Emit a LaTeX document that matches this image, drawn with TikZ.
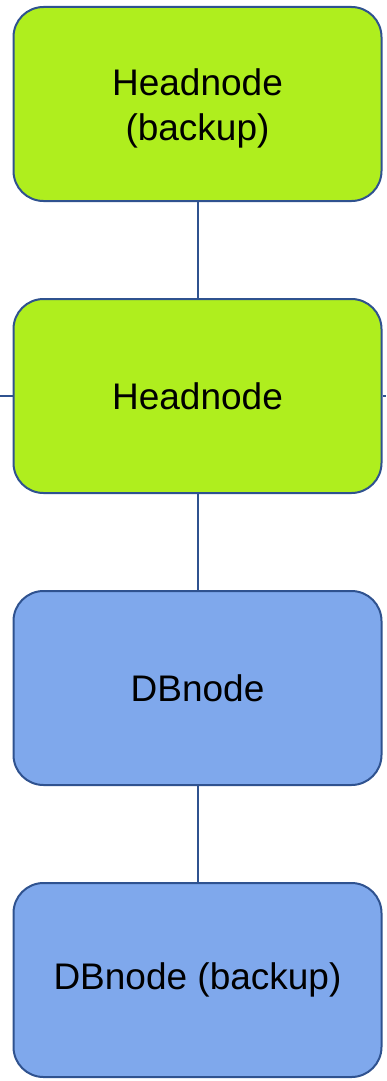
\documentclass[tikz,border=0pt]{standalone}
\usepackage{fontspec}
\setmainfont{Liberation Sans}
\definecolor{hgreen}{RGB}{175,238,30}
\definecolor{dbblue}{RGB}{127,168,236}
\definecolor{edge}{RGB}{47,82,143}
\begin{document}
\begin{tikzpicture}[x=1pt,y=-1pt,
  box/.style={draw=edge, line width=2pt, rounded corners=30pt, minimum width=368pt, minimum height=194pt, align=center, font=\fontsize{37}{44}\selectfont, inner sep=0pt},
  conn/.style={draw=edge, line width=2pt}]
\useasboundingbox (0,0) rectangle (386,1081);
\node[box, fill=hgreen, label={[align=center, font=\fontsize{37}{45}\selectfont, yshift=-4pt]center:Headnode\\(backup)}] (hb) at (197.5,104) {};
\node[box, fill=hgreen] (h) at (197.5,396) {Headnode};
\node[box, fill=dbblue] (db) at (197.5,688) {DBnode};
\node[box, fill=dbblue] (dbb) at (197.5,980) {DBnode (backup)};
\coordinate (lft) at (0,396);
\coordinate (rgt) at (386,396);
\draw[conn] (hb.south) -- (h.north);
\draw[conn] (h.south) -- (db.north);
\draw[conn] (db.south) -- (dbb.north);
\draw[conn] (lft) -- (h.west);
\draw[conn] (h.east) -- (rgt);
\end{tikzpicture}
\end{document}
